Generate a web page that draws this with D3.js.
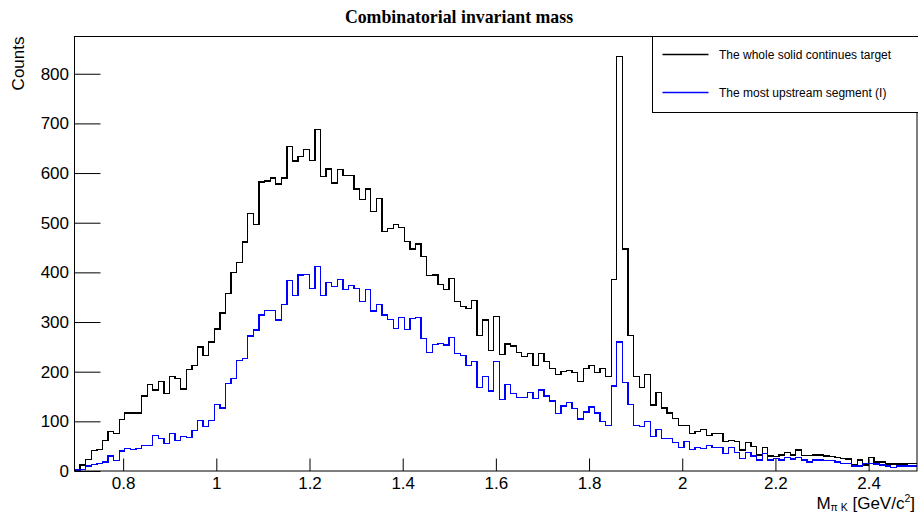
<!DOCTYPE html>
<html>
<head>
<meta charset="utf-8">
<script src="https://cdn.jsdelivr.net/npm/d3@7"></script>
<style>
  html, body { margin: 0; padding: 0; background: #fff; }
  svg { display: block; }
  text { font-family: "Liberation Sans", Arial, Helvetica, sans-serif; }
</style>
</head>
<body>
<svg id="chart" width="918" height="514"></svg>
<script>
// ---- data (bin contents, 0.012 GeV wide bins starting at 0.6956) ----
const binStart = 0.6956;
const binWidth = 0.012;

const wholeTarget = [
  3, 12, 23, 41, 44, 62, 79, 76, 104, 117,
  117, 117, 151, 174, 163, 180, 156, 190, 186, 165,
  205, 213, 250, 232, 260, 286, 318, 357, 400, 420,
  461, 518, 497, 582, 584, 590, 578, 590, 654, 624,
  633, 647, 625, 688, 593, 608, 580, 607, 595, 595,
  568, 547, 568, 522, 549, 482, 489, 497, 491, 462,
  447, 457, 432, 393, 395, 376, 365, 387, 342, 331,
  327, 344, 273, 304, 242, 311, 234, 256, 252, 239,
  230, 236, 212, 237, 221, 207, 195, 200, 203, 199,
  180, 207, 212, 199, 207, 191, 385, 835, 447, 273,
  190, 168, 194, 133, 158, 127, 117, 106, 91, 91,
  76, 79, 84, 71, 76, 76, 60, 62, 60, 42,
  58, 50, 32, 47, 30, 29, 32, 37, 32, 42,
  31, 31, 32, 32, 30, 29, 27, 25, 24, 12,
  22, 12, 27, 18, 18, 14, 14, 14, 14, 15,
  15
];

const upstreamSegment = [
  2, 3, 10, 13, 15, 18, 30, 21, 40, 45,
  43, 45, 52, 52, 71, 66, 56, 76, 61, 69,
  67, 82, 101, 89, 102, 134, 127, 176, 186, 223,
  226, 272, 284, 314, 323, 323, 304, 336, 383, 353,
  395, 396, 368, 412, 354, 380, 371, 386, 365, 373,
  368, 341, 365, 322, 336, 314, 305, 287, 309, 285,
  307, 309, 267, 238, 255, 257, 254, 269, 236, 232,
  213, 220, 168, 190, 161, 221, 144, 174, 156, 148,
  148, 158, 146, 163, 151, 141, 116, 131, 138, 126,
  105, 119, 129, 117, 100, 92, 171, 260, 178, 134,
  92, 90, 99, 70, 84, 66, 66, 57, 47, 60,
  44, 47, 45, 51, 47, 47, 35, 47, 37, 25,
  37, 30, 22, 35, 22, 25, 22, 27, 24, 27,
  22, 18, 22, 22, 21, 21, 18, 15, 15, 10,
  10, 15, 15, 14, 12, 10, 7, 10, 10, 10,
  10
];

const seriesNames = ["The whole solid continues target", "The most upstream segment (I)"];
const seriesColors = ["#000000", "#0000ff"];

const xMajorTicks = [0.8, 1.0, 1.2, 1.4, 1.6, 1.8, 2.0, 2.2, 2.4];
const xTickLabels = ["0.8", "1", "1.2", "1.4", "1.6", "1.8", "2", "2.2", "2.4"];
const yMajorTicks = [0, 100, 200, 300, 400, 500, 600, 700, 800];
const yTickLabels = ["0", "100", "200", "300", "400", "500", "600", "700", "800"];

// ---- layout ----
const frame = { left: 74.5, right: 917, top: 36.5, bottom: 471 };
const svg = d3.select("#chart");

const x = d3.scaleLinear().domain([0.69562, 2.50385]).range([frame.left, frame.right]);
const y = d3.scaleLinear().domain([0, 875]).range([frame.bottom, frame.top]);

// title
svg.append("text")
  .attr("x", 459).attr("y", 23)
  .attr("text-anchor", "middle")
  .style("font-family", "'Liberation Serif', 'Times New Roman', serif")
  .style("font-weight", "bold")
  .style("font-size", "17.8px")
  .text("Combinatorial invariant mass");

// clip
svg.append("clipPath").attr("id", "plotclip")
  .append("rect")
  .attr("x", frame.left).attr("y", frame.top)
  .attr("width", frame.right - frame.left).attr("height", frame.bottom - frame.top);

// histograms
function stepPoints(vals) {
  const pts = [[binStart, 0]];
  vals.forEach((v, i) => {
    pts.push([binStart + i * binWidth, v]);
  });
  pts.push([binStart + vals.length * binWidth, vals[vals.length - 1]]);
  return pts;
}
const line = d3.line()
  .x(d => x(d[0]))
  .y(d => y(d[1]))
  .curve(d3.curveStepAfter);

const plot = svg.append("g").attr("clip-path", "url(#plotclip)");
[wholeTarget, upstreamSegment].forEach((vals, i) => {
  plot.append("path")
    .attr("d", line(stepPoints(vals)))
    .attr("fill", "none")
    .attr("stroke", seriesColors[i])
    .attr("stroke-width", 1.3)
    .attr("shape-rendering", "crispEdges");
});

// axes
const xMinor = d3.range(0.70, 2.5001, 0.05).filter(v => xMajorTicks.every(m => Math.abs(m - v) > 1e-6));
const yMinor = d3.range(0, 870, 20).filter(v => v % 100 !== 0);

const gx = svg.append("g").attr("transform", `translate(0,${frame.bottom})`);
gx.call(d3.axisBottom(x).tickValues(xMinor).tickSize(-6).tickFormat(""));
gx.call(d3.axisBottom(x).tickValues(xMajorTicks).tickSize(-12.5).tickPadding(6.5)
  .tickFormat((d, i) => xTickLabels[i]));
gx.selectAll(".domain").remove();

const gy = svg.append("g").attr("transform", `translate(${frame.left},0)`);
gy.call(d3.axisLeft(y).tickValues(yMinor).tickSize(-13).tickFormat(""));
gy.call(d3.axisLeft(y).tickValues(yMajorTicks).tickSize(-26).tickPadding(5.5)
  .tickFormat((d, i) => yTickLabels[i]));
gy.selectAll(".domain").remove();

svg.selectAll(".tick line").attr("stroke", "#000").attr("stroke-width", 1);
svg.selectAll(".tick text")
  .style("font-family", "'Liberation Sans', Arial, sans-serif")
  .style("font-size", "17px")
  .attr("fill", "#000");
gx.selectAll(".tick text").attr("y", 6.5).attr("dy", "0.68em");

// frame
svg.append("rect")
  .attr("x", frame.left).attr("y", frame.top)
  .attr("width", frame.right - frame.left).attr("height", frame.bottom - frame.top)
  .attr("fill", "none").attr("stroke", "#000").attr("stroke-width", 1);

// axis titles
svg.append("text")
  .attr("transform", "translate(23.5,36.5) rotate(-90)")
  .attr("text-anchor", "end")
  .style("font-size", "17px")
  .text("Counts");

const xt = svg.append("text")
  .attr("x", 915).attr("y", 509)
  .attr("text-anchor", "end")
  .style("font-size", "17px");
xt.append("tspan").text("M");
xt.append("tspan").attr("dy", 2).style("font-size", "10.5px").text("π K");
xt.append("tspan").attr("dy", -2).text(" [GeV/c");
xt.append("tspan").attr("dy", -7).style("font-size", "10.5px").text("2");
xt.append("tspan").attr("dy", 7).text("]");

// legend
const lg = svg.append("g");
lg.append("rect")
  .attr("x", 652.5).attr("y", 36.5)
  .attr("width", 270).attr("height", 76)
  .attr("fill", "#fff").attr("stroke", "#000").attr("stroke-width", 1);
const legendY = [54.5, 92.5];
seriesNames.forEach((name, i) => {
  lg.append("line")
    .attr("x1", 662.5).attr("x2", 708.5)
    .attr("y1", legendY[i]).attr("y2", legendY[i])
    .attr("stroke", seriesColors[i]).attr("stroke-width", 1.3);
  lg.append("text")
    .attr("x", 719).attr("y", legendY[i] + 4.3)
    .style("font-size", "12px")
    .text(name);
});
</script>
</body>
</html>
